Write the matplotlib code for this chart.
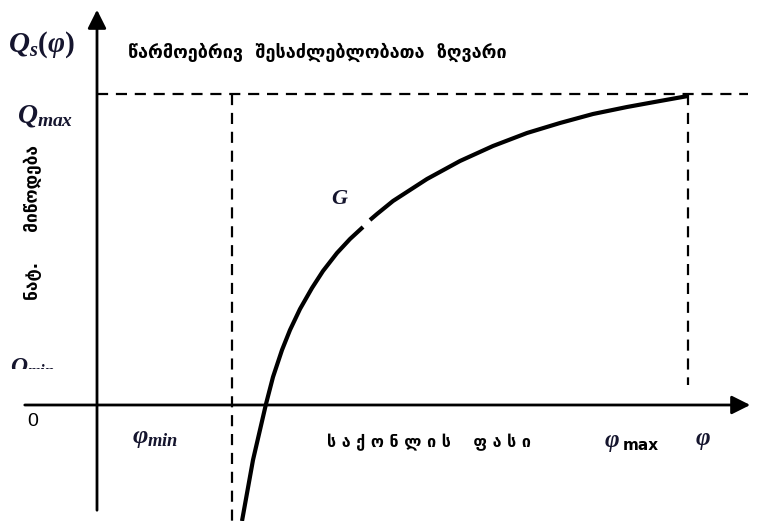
import matplotlib
matplotlib.use("Agg")
from matplotlib import pyplot as plt
from matplotlib.transforms import Bbox

plt.rcParams['mathtext.fontset'] = 'custom'
plt.rcParams['mathtext.it'] = 'Liberation Serif:italic:bold'
plt.rcParams['mathtext.rm'] = 'Liberation Serif:bold'
plt.rcParams['mathtext.bf'] = 'Liberation Serif:bold'

# curve G (price phi, supply Q); gap near the label G
phi_low = [145, 156, 169, 176, 185, 193, 203, 215, 226, 240, 253, 266]
q_low = [-116, -55, 1, 28, 55, 75, 96, 117, 134, 152, 166, 178]
phi_up = [273, 280, 296, 313, 330, 363, 396, 430, 463, 496, 530, 563, 591]
q_up = [185, 191, 204, 215, 226, 244, 259, 272, 282, 291, 298, 304, 309]

q_max = 311
phi_min = 135
phi_max = 591
x_lim = (-97, 665)
y_lim = (-116, 405)

math_col = '#15152e'

fig = plt.figure(figsize=(7.62, 5.21), dpi=100)
ax = fig.add_axes([0, 0, 1, 1])
ax.set_xlim(*x_lim)
ax.set_ylim(*y_lim)
ax.axis('off')

# axes with arrows
ax.annotate('', xy=(0, 398), xytext=(0, -108),
            arrowprops=dict(arrowstyle='-|>', lw=2, color='black', mutation_scale=28))
ax.annotate('', xy=(656, 0), xytext=(-75, 0),
            arrowprops=dict(arrowstyle='-|>', lw=2, color='black', mutation_scale=28))

# dashed guide lines
dash = dict(color='black', lw=1.6, dashes=(5, 3.5))
ax.plot([0, 651], [q_max, q_max], **dash)
ax.plot([phi_min, phi_min], [q_max, y_lim[0]], **dash)
ax.plot([phi_max, phi_max], [q_max, 20], **dash)

# the curve
ax.plot(phi_low, q_low, color='black', lw=3, solid_capstyle='butt', solid_joinstyle='round')
ax.plot(phi_up, q_up, color='black', lw=3, solid_capstyle='butt', solid_joinstyle='round')

# labels
ax.text(-89, 360, r'$Q_s(\varphi)$', fontsize=21, color=math_col, va='center', ha='left')
ax.text(-80, 290, r'$Q_{max}$', fontsize=20, color=math_col, va='center', ha='left')
t = ax.text(-87, 33, r'$Q_{min}$', fontsize=17, color=math_col, va='baseline', ha='left')
t.set_clip_box(Bbox.from_extents(0, 521 - 369, 762, 521))
t.set_clip_on(True)
ax.text(-64, -17, '0', fontsize=14, family='Liberation Sans', va='center', ha='center')
ax.text(35, -32, r'$\varphi_{min}$', fontsize=19, color=math_col, va='center', ha='left')
ax.text(606, -35, r'$\varphi$', fontsize=18, color=math_col, va='center', ha='center')
ax.text(507, -37, r'$\varphi$', fontsize=18, color=math_col, va='center', ha='left')
ax.text(526, -40, 'max', fontsize=11, family='DejaVu Sans', weight='bold', va='center', ha='left')
ax.text(243, 207, r'$G$', fontsize=16, color=math_col, va='center', ha='center')

ax.text(31, 353, 'წარმოებრივ  შესაძლებლობათა  ზღვარი', fontsize=13,
        family='DejaVu Sans', weight='bold', va='center', ha='left')
ax.text(230, -37, 'ს ა ქ ო ნ ლ ი ს    ფ ა ს ი', fontsize=11.5,
        family='DejaVu Sans', weight='bold', va='center', ha='left')
ax.text(-64, 183, 'ნატ.     მიწოდება', fontsize=12.5, family='DejaVu Sans',
        weight='bold', rotation=90, va='center', ha='center')

fig.savefig('out.png', dpi=100)
